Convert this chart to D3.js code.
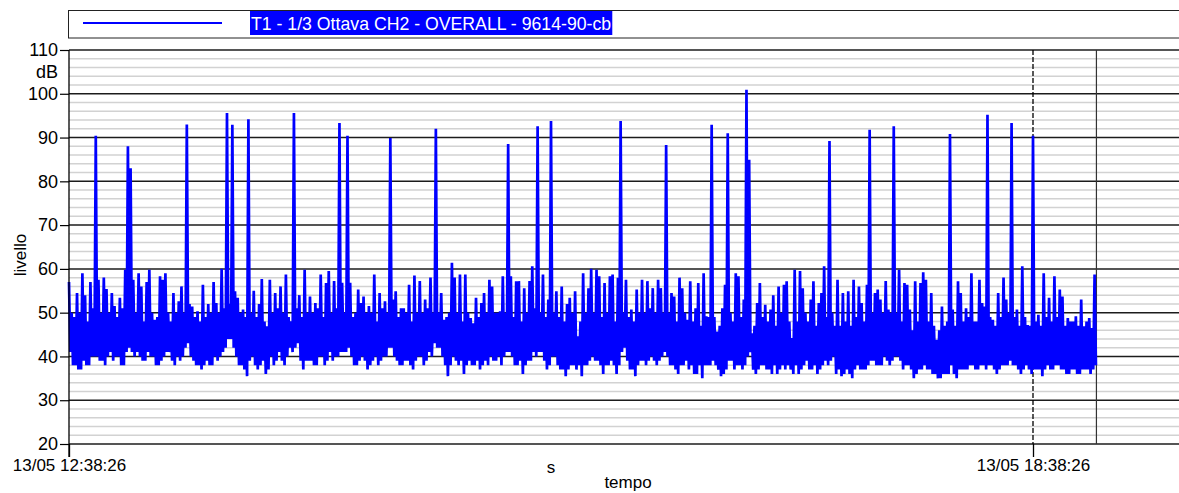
<!DOCTYPE html>
<html>
<head>
<meta charset="utf-8">
<script src="https://cdn.jsdelivr.net/npm/d3@7"></script>
<style>
  html, body { margin: 0; padding: 0; background: #fff; }
  svg { display: block; font-family: "Liberation Sans", Arial, sans-serif; }
</style>
</head>
<body>
<svg id="chart" width="1179" height="493"></svg>
<script>
// Sound level record: per-minute maximum and minimum (dB)
const startTime = "2000-05-13T12:38:26";
const stepSeconds = 60;
const levelMax = [
  57, 50, 49, 54.5, 50, 59, 54, 48, 57, 51,
  90.4, 57.5, 50, 58, 55.4, 50, 54.5, 51.5, 49, 53.4,
  51, 59.8, 88, 83, 57.5, 50, 59, 56, 48, 57,
  59.8, 50, 48.4, 49, 58.3, 57.5, 59, 50, 48, 54.5,
  50, 52.6, 56, 50, 93, 52, 51.4, 49, 50.3, 48,
  56.4, 49, 52, 50, 57, 52.2, 50, 60, 51, 95.6,
  52, 92.9, 54.9, 53.4, 50, 50.7, 49, 94.2, 50, 55,
  49, 52, 57.7, 48, 46.9, 57.5, 50, 54.5, 51, 56,
  50, 58.7, 49, 48, 95.6, 51, 54, 49, 59.8, 50,
  53.7, 50, 52.2, 51, 58.7, 49, 56.8, 59.5, 50, 57.2,
  51, 93.3, 56.8, 50, 90.4, 56.8, 49, 50, 55.3, 52.2,
  53.7, 50, 51.5, 50, 58.7, 48, 54.5, 51, 52.6, 50,
  89.9, 53, 54.9, 49, 51, 51, 50, 56.4, 48, 58.5,
  50, 57.2, 50, 53, 51, 58, 50, 92, 50, 54.5,
  48.4, 49, 50, 61.4, 58, 50, 58.7, 48, 58.7, 50,
  48.8, 47.6, 53.4, 49, 52.2, 54.5, 50, 57.5, 56, 50,
  50, 50.3, 58.3, 50, 88.5, 58.3, 49, 57.2, 57.2, 48,
  55.6, 50, 57.2, 60.6, 51, 92.6, 50, 58.7, 49, 53,
  93.8, 50, 54.9, 49, 56, 48, 52, 53.4, 50, 54.9,
  44.6, 48, 59, 50, 55.6, 60, 50, 59.8, 58.3, 49,
  56.8, 50, 58.3, 58.7, 48, 58, 93.8, 50, 57.5, 49,
  50.7, 48, 55.3, 50, 57.5, 50, 57.2, 51, 55.6, 50,
  57.5, 55.6, 50, 88.3, 50, 54.5, 53.7, 48, 58, 55.6,
  50, 48.4, 57.2, 48, 51, 56.8, 47, 59, 49.2, 49,
  92.9, 49, 45.7, 47, 51, 56.4, 91, 50, 48, 59,
  58.3, 49, 53, 100.9, 84.9, 45.3, 47, 52.2, 56.8, 49,
  51.8, 48, 50.7, 54, 47, 56, 50, 56.4, 57.2, 48,
  44.2, 59.8, 48, 59.5, 55.6, 50, 48, 53, 57.2, 47,
  52.2, 54.5, 60.6, 49, 89.2, 50, 47, 57.5, 47, 54.5,
  48, 54.9, 47, 57.5, 49, 56, 52.2, 48, 56.4, 91.8,
  50, 54.5, 55.3, 53, 50, 57.2, 50.7, 50, 92.6, 50,
  59.8, 48, 56.8, 56.4, 50.7, 46, 57.2, 48, 56.8, 59.2,
  57.5, 48, 54.5, 47, 43.8, 46, 51.4, 47, 48, 90.8,
  50.7, 47, 57.2, 54.5, 48, 51, 49, 59, 48, 48,
  57.5, 52.2, 51.4, 95.2, 49, 48.4, 47, 54.5, 49, 58,
  53, 50, 93.3, 49, 50.7, 47, 60.6, 49, 47.2, 47,
  90.4, 48, 49.5, 47, 59, 49, 53.4, 48, 58.3, 49,
  55.3, 53.7, 47, 48.8, 48, 48, 49.2, 47, 53, 46.9,
  48, 48.8, 46.5, 58.7
];
const levelMin = [
  41, 38, 38, 37, 37, 39, 38, 38, 40, 40,
  40, 39, 39, 38, 40, 41, 39, 40, 40, 38,
  38, 41, 42, 41, 40, 41, 40, 39, 39, 41,
  40, 40, 38, 38, 39, 40, 41, 41, 39, 38,
  40, 39, 40, 42, 43, 40, 39, 38, 38, 37,
  38, 39, 38, 38, 40, 39, 40, 41, 42, 44,
  44, 42, 40, 38, 38, 37, 35.5, 39, 40, 38,
  37, 38, 39, 36, 37, 40, 38, 39, 41, 39,
  38, 40, 42, 41, 42, 43, 39, 37, 39, 39,
  39, 38, 38, 40, 40, 38, 39, 41, 39, 40,
  40, 41, 41, 41, 42, 40, 38, 38, 39, 40,
  39, 37, 38, 39, 40, 38, 39, 40, 40, 42,
  42, 40, 39, 38, 38, 39, 39, 38, 37, 39,
  40, 40, 38, 39, 41, 40, 43, 42, 42, 40,
  38, 35.5, 38, 40, 39, 38, 39, 36, 38, 39,
  38, 38, 39, 37, 38, 39, 38, 40, 39, 39,
  40, 38, 40, 41, 41, 40, 38, 38, 39, 36,
  38, 39, 39, 41, 40, 41, 41, 39, 37, 38,
  40, 40, 38, 37, 37, 35.5, 37, 38, 38, 37,
  38, 35.5, 38, 38, 39, 40, 39, 39, 38, 36,
  38, 38, 39, 38, 36, 38, 41, 42, 39, 37,
  37, 35.5, 38, 39, 39, 38, 39, 40, 39, 38,
  39, 40, 41, 40, 38, 38, 37, 36, 38, 38,
  39, 37, 38, 36, 36, 38, 35, 38, 38, 38,
  39, 38, 37, 35.5, 36, 37, 39, 39, 37, 38,
  38, 37, 38, 40, 41, 37, 36, 37, 38, 38,
  37, 37, 36, 38, 36, 37, 38, 37, 38, 37,
  36, 38, 36, 37, 38, 39, 37, 37, 38, 36,
  37, 38, 39, 38, 39, 40, 36, 37, 35.5, 36,
  37, 36, 35, 37, 38, 37, 37, 37, 38, 39,
  39, 38, 38, 38, 40, 39, 38, 39, 40, 40,
  39, 37, 38, 38, 37, 35, 36, 37, 37, 38,
  37, 37, 36, 36, 35, 35, 36, 36, 36, 38,
  36, 35, 37, 37, 37, 37, 38, 38, 37, 37,
  38, 38, 37, 38, 38, 37, 36, 37, 38, 38,
  38, 39, 38, 38, 37, 36, 37, 38, 37, 36,
  37, 37, 37, 35.5, 37, 38, 37, 37, 38, 38,
  37, 37, 36, 36, 37, 37, 36, 36, 37, 37,
  37, 36, 37, 38
];
const yTicks = [20, 30, 40, 50, 60, 70, 80, 90, 100, 110];
const yMinorStep = 2;
const markerHours = 6;
const legendLabel = "T1 - 1/3 Ottava CH2 - OVERALL - 9614-90-cb";
const yUnit = "dB";
const yTitle = "livello";
const xUnit = "s";
const xTitle = "tempo";

const W = 1179, H = 493;
const plot = { left: 69, top: 50, bottom: 444, right: W };
const traceColor = "#0000ff";

const svg = d3.select("#chart");
svg.append("rect").attr("width", W).attr("height", H).attr("fill", "#fff");

const t0 = new Date(startTime);
const tMarker = d3.timeHour.offset(t0, markerHours);
const stepMs = stepSeconds * 1000;

// each minute contributes its maximum, then its minimum half a step later
const trace = [];
levelMax.forEach((v, i) => {
  trace.push({ t: new Date(t0.getTime() + i * stepMs), v: v });
  trace.push({ t: new Date(t0.getTime() + (i + 0.5) * stepMs), v: levelMin[i] });
});
const tLast = trace[trace.length - 1].t;

// 6 hours span between the two labelled ticks
const x = d3.scaleTime().domain([t0, tMarker]).range([plot.left, 1033]);
const y = d3.scaleLinear().domain([20, 110]).range([plot.bottom, plot.top]);

// minor horizontal grid
const minorVals = d3.range(20, 110 + 0.001, yMinorStep).filter(v => v % 10 !== 0);
svg.append("g").selectAll("line").data(minorVals).join("line")
  .attr("x1", plot.left).attr("x2", plot.right)
  .attr("y1", d => y(d)).attr("y2", d => y(d))
  .attr("stroke", "#d2d2d2").attr("stroke-width", 1.5);

// major horizontal grid
svg.append("g").selectAll("line").data(yTicks).join("line")
  .attr("x1", plot.left).attr("x2", plot.right)
  .attr("y1", d => y(d)).attr("y2", d => y(d))
  .attr("stroke", "#1c1c1c").attr("stroke-width", 1.5);

// cursor lines: dashed at the 6 h tick, solid at the end of the record
svg.append("line")
  .attr("x1", x(tMarker)).attr("x2", x(tMarker))
  .attr("y1", plot.top).attr("y2", plot.bottom)
  .attr("stroke", "#000").attr("stroke-width", 1.3)
  .attr("stroke-dasharray", "5,2");
svg.append("line")
  .attr("x1", x(tLast) + 0.5).attr("x2", x(tLast) + 0.5)
  .attr("y1", plot.top).attr("y2", plot.bottom)
  .attr("stroke", "#333").attr("stroke-width", 1.2);

// trace
const line = d3.line()
  .x(d => x(d.t))
  .y(d => y(d.v));
svg.append("path")
  .datum(trace)
  .attr("d", line)
  .attr("fill", "none")
  .attr("stroke", traceColor)
  .attr("stroke-width", 2.7)
  .attr("stroke-linejoin", "bevel");

// left axis
const yAxis = d3.axisLeft(y).tickValues(yTicks).tickSize(9).tickPadding(2);
const gy = svg.append("g").attr("transform", `translate(${plot.left},0)`).call(yAxis);
gy.select(".domain").remove();
gy.selectAll(".tick line").attr("stroke", "#000").attr("stroke-width", 1.2);
gy.selectAll(".tick text")
  .attr("font-size", 18).attr("fill", "#000")
  .attr("font-family", "'Liberation Sans', Arial, sans-serif");
svg.append("line")
  .attr("x1", plot.left).attr("x2", plot.left)
  .attr("y1", plot.top).attr("y2", plot.bottom + 13)
  .attr("stroke", "#000").attr("stroke-width", 1.3);

// bottom axis
const fmt = d3.timeFormat("%d/%m %H:%M:%S");
const xAxis = d3.axisBottom(x).tickValues([t0, tMarker]).tickFormat(fmt).tickSize(13).tickPadding(2);
const gx = svg.append("g").attr("transform", `translate(0,${plot.bottom})`).call(xAxis);
gx.select(".domain").remove();
gx.selectAll(".tick line").attr("stroke", "#000").attr("stroke-width", 1.3);
gx.selectAll(".tick text")
  .attr("font-size", 17).attr("fill", "#000")
  .attr("font-family", "'Liberation Sans', Arial, sans-serif");

// axis titles
svg.append("text").text(yUnit)
  .attr("x", 47).attr("y", 78).attr("text-anchor", "middle")
  .attr("font-size", 18);
svg.append("text").text(yTitle)
  .attr("transform", "translate(26,255) rotate(-90)")
  .attr("text-anchor", "middle").attr("font-size", 17);
svg.append("text").text(xUnit)
  .attr("x", 551).attr("y", 473).attr("text-anchor", "middle")
  .attr("font-size", 17);
svg.append("text").text(xTitle)
  .attr("x", 628).attr("y", 488).attr("text-anchor", "middle")
  .attr("font-size", 17);

// legend
const lg = svg.append("g");
lg.append("rect")
  .attr("x", 68.5).attr("y", 10.5).attr("width", 1200).attr("height", 27.5)
  .attr("fill", "#fff").attr("stroke", "#222").attr("stroke-width", 1);
lg.append("line")
  .attr("x1", 83).attr("x2", 222).attr("y1", 23).attr("y2", 23)
  .attr("stroke", traceColor).attr("stroke-width", 2);
const hl = lg.append("rect").attr("fill", traceColor);
const lt = lg.append("text").text(legendLabel)
  .attr("x", 251).attr("y", 29.5).attr("font-size", 17.7).attr("fill", "#fff");
const bb = lt.node().getBBox();
hl.attr("x", bb.x - 1).attr("y", 11).attr("width", bb.width + 2).attr("height", 24);
</script>
</body>
</html>
